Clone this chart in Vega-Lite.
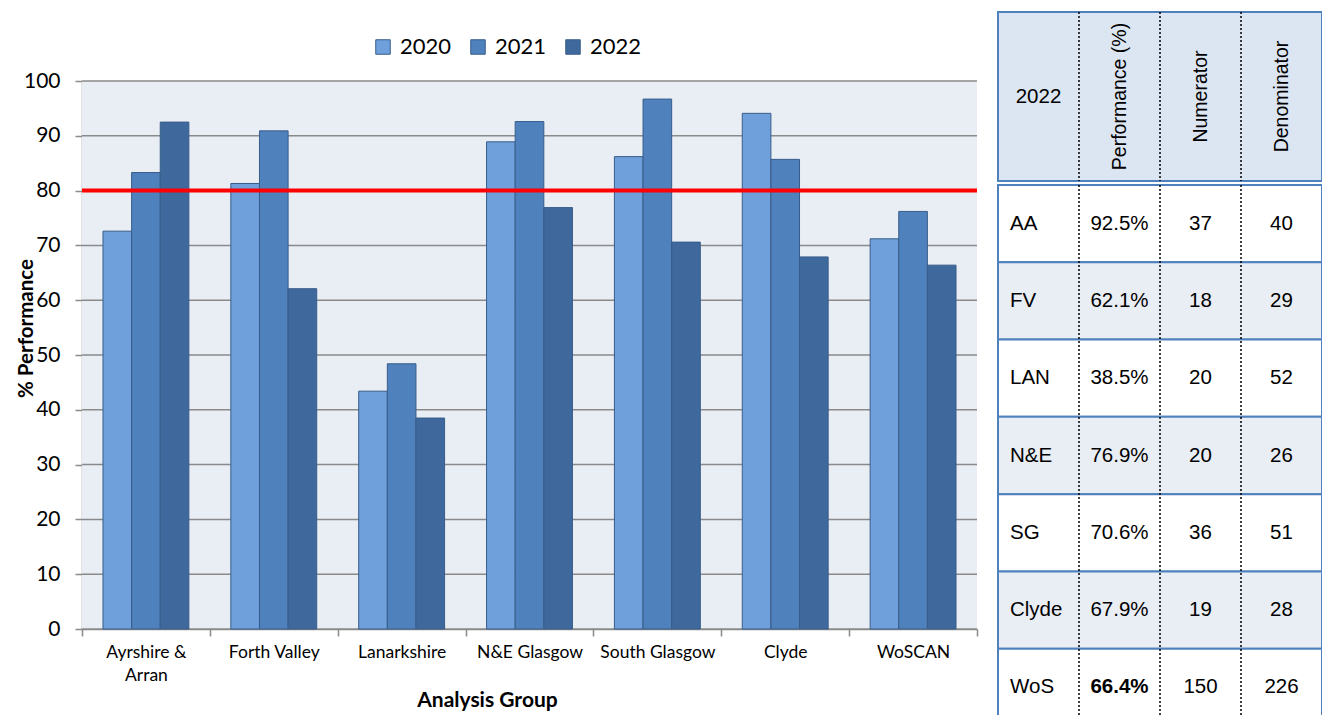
{
  "$schema": "https://vega.github.io/schema/vega-lite/v6.json",
  "padding": {"left": 16, "top": 10, "right": 0, "bottom": 0},
  "background": "#FFFFFF",
  "datasets": {
    "performance": [
      {"group": "Ayrshire & Arran", "year": "2020", "value": 72.6},
      {"group": "Ayrshire & Arran", "year": "2021", "value": 83.3},
      {"group": "Ayrshire & Arran", "year": "2022", "value": 92.5, "abbr": "AA", "numerator": 37, "denominator": 40},
      {"group": "Forth Valley", "year": "2020", "value": 81.3},
      {"group": "Forth Valley", "year": "2021", "value": 90.9},
      {"group": "Forth Valley", "year": "2022", "value": 62.1, "abbr": "FV", "numerator": 18, "denominator": 29},
      {"group": "Lanarkshire", "year": "2020", "value": 43.4},
      {"group": "Lanarkshire", "year": "2021", "value": 48.4},
      {"group": "Lanarkshire", "year": "2022", "value": 38.5, "abbr": "LAN", "numerator": 20, "denominator": 52},
      {"group": "N&E Glasgow", "year": "2020", "value": 88.9},
      {"group": "N&E Glasgow", "year": "2021", "value": 92.6},
      {"group": "N&E Glasgow", "year": "2022", "value": 76.9, "abbr": "N&E", "numerator": 20, "denominator": 26},
      {"group": "South Glasgow", "year": "2020", "value": 86.2},
      {"group": "South Glasgow", "year": "2021", "value": 96.7},
      {"group": "South Glasgow", "year": "2022", "value": 70.6, "abbr": "SG", "numerator": 36, "denominator": 51},
      {"group": "Clyde", "year": "2020", "value": 94.1},
      {"group": "Clyde", "year": "2021", "value": 85.7},
      {"group": "Clyde", "year": "2022", "value": 67.9, "abbr": "Clyde", "numerator": 19, "denominator": 28},
      {"group": "WoSCAN", "year": "2020", "value": 71.2},
      {"group": "WoSCAN", "year": "2021", "value": 76.2},
      {"group": "WoSCAN", "year": "2022", "value": 66.4, "abbr": "WoS", "numerator": 150, "denominator": 226}
    ],
    "plotRange": [{"low": 0, "high": 100}],
    "gridValues": [
      {"tick": 0}, {"tick": 10}, {"tick": 20}, {"tick": 30}, {"tick": 40}, {"tick": 50},
      {"tick": 60}, {"tick": 70}, {"tick": 80}, {"tick": 90}, {"tick": 100}
    ],
    "columns": [
      {"column": "area", "heading": "2022"},
      {"column": "performance", "heading": "Performance (%)"},
      {"column": "numerator", "heading": "Numerator"},
      {"column": "denominator", "heading": "Denominator"}
    ]
  },
  "resolve": {"scale": {"color": "independent"}, "legend": {"color": "independent"}},
  "columns": 2,
  "align": "none",
  "spacing": 17,
  "concat": [
    {
      "width": 895,
      "height": 617,
      "view": {"stroke": null},
      "data": {"name": "performance"},
      "layer": [
        {
          "data": {"name": "plotRange"},
          "mark": {"type": "rect", "fill": "#E9EDF4"},
          "encoding": {
            "y": {"field": "low", "type": "quantitative", "scale": {"domain": [0, 100], "range": [617, 69], "nice": false}},
            "y2": {"field": "high"}
          }
        },
        {
          "data": {"name": "gridValues"},
          "mark": {"type": "rule", "color": "#8A8A8A", "strokeWidth": 1.5},
          "encoding": {"y": {"field": "tick", "type": "quantitative"}}
        },
        {
          "mark": {"type": "bar", "stroke": "#385D8A", "strokeWidth": 1},
          "encoding": {
            "x": {
              "field": "group",
              "type": "nominal",
              "sort": ["Ayrshire & Arran", "Forth Valley", "Lanarkshire", "N&E Glasgow", "South Glasgow", "Clyde", "WoSCAN"],
              "scale": {"type": "band", "paddingInner": 0, "paddingOuter": 0},
              "axis": {
                "title": "Analysis Group",
                "labelAngle": 0,
                "labelFont": "Lato",
                "labelFontSize": 17.5,
                "labelColor": "#000000",
                "labelPadding": 7,
                "labelLineHeight": 23,
                "labelExpr": "datum.label == 'Ayrshire & Arran' ? ['Ayrshire &', 'Arran'] : datum.label",
                "tickBand": "extent",
                "tickSize": 7,
                "tickColor": "#8A8A8A",
                "tickWidth": 1.5,
                "domainColor": "#8A8A8A",
                "domainWidth": 1.5,
                "titleFont": "Lato",
                "titleFontSize": 21,
                "titleFontWeight": "bold",
                "titleColor": "#000000",
                "titleX": 405,
                "titleY": 71,
                "titleBaseline": "middle"
              }
            },
            "xOffset": {
              "field": "year",
              "type": "nominal",
              "sort": ["2020", "2021", "2022"],
              "scale": {"paddingInner": 0, "paddingOuter": 0.733}
            },
            "y": {
              "field": "value",
              "type": "quantitative",
              "axis": {
                "title": "% Performance",
                "values": [0, 10, 20, 30, 40, 50, 60, 70, 80, 90, 100],
                "grid": false,
                "domain": true,
                "domainColor": "#8A8A8A",
                "domainWidth": 1.5,
                "tickColor": "#8A8A8A",
                "tickWidth": 1.5,
                "tickSize": 7,
                "labelPadding": 15,
                "labelFont": "Lato",
                "labelFontSize": 21,
                "labelColor": "#000000",
                "titleFont": "Lato",
                "titleFontSize": 20.5,
                "titleFontWeight": "bold",
                "titleColor": "#000000",
                "titleAngle": 270,
                "titleX": -56,
                "titleY": 316,
                "titleBaseline": "middle",
                "titleAlign": "center"
              }
            },
            "color": {
              "field": "year",
              "type": "nominal",
              "scale": {"domain": ["2020", "2021", "2022"], "range": ["#6FA0DB", "#4F81BD", "#3F699C"]},
              "legend": {
                "title": null,
                "orient": "none",
                "direction": "horizontal",
                "legendX": 290,
                "legendY": 24,
                "labelFont": "Lato",
                "labelFontSize": 22,
                "labelColor": "#000000",
                "symbolType": "square",
                "symbolSize": 210,
                "symbolStrokeColor": "#385D8A",
                "symbolStrokeWidth": 1,
                "symbolOpacity": 1,
                "columnPadding": 15,
                "labelOffset": 6
              }
            }
          }
        },
        {
          "data": {"values": [{"target": 80}]},
          "mark": {"type": "rule", "color": "#FF0000", "strokeWidth": 4},
          "encoding": {"y": {"field": "target", "type": "quantitative"}}
        }
      ]
    },
    {
      "spacing": 0,
      "vconcat": [
        {
          "width": 324,
          "height": 169,
          "view": {"fill": "#DCE6F2", "stroke": "#4F81BD", "strokeWidth": 2},
          "data": {"name": "columns"},
          "layer": [
            {
              "transform": [{"filter": "datum.column != 'area'"}],
              "mark": {"type": "rule", "color": "#000000", "strokeWidth": 1.5, "strokeDash": [2, 2]},
              "encoding": {
                "x": {"field": "column", "type": "nominal", "bandPosition": 0,
                  "scale": {"type": "band", "domain": ["area", "performance", "numerator", "denominator"], "paddingInner": 0, "paddingOuter": 0},
                  "axis": null}
              }
            },
            {
              "transform": [{"filter": "datum.column == 'area'"}],
              "mark": {"type": "text", "font": "Liberation Sans", "fontSize": 20.5, "color": "#000000"},
              "encoding": {
                "x": {"field": "column", "type": "nominal", "scale": {"type": "band"}, "axis": null},
                "text": {"field": "heading"}
              }
            },
            {
              "transform": [{"filter": "datum.column != 'area'"}],
              "mark": {"type": "text", "font": "Liberation Sans", "fontSize": 19.5, "angle": 270, "color": "#000000"},
              "encoding": {
                "x": {"field": "column", "type": "nominal", "scale": {"type": "band"}, "axis": null},
                "text": {"field": "heading"}
              }
            }
          ]
        },
        {
          "width": 324,
          "height": 541,
          "view": {"stroke": "#4F81BD", "strokeWidth": 2},
          "data": {"name": "performance"},
          "layer": [
            {
              "transform": [{"filter": "datum.year == '2022'"}],
              "mark": {"type": "rect", "stroke": "#4F81BD", "strokeWidth": 2},
              "encoding": {
                "y": {"field": "abbr", "type": "nominal",
                  "scale": {"type": "band", "domain": ["AA", "FV", "LAN", "N&E", "SG", "Clyde", "WoS"], "paddingInner": 0, "paddingOuter": 0},
                  "axis": null},
                "fill": {"field": "abbr", "type": "nominal",
                  "scale": {"domain": ["AA", "FV", "LAN", "N&E", "SG", "Clyde", "WoS"],
                    "range": ["#FFFFFF", "#E9EDF4", "#FFFFFF", "#E9EDF4", "#FFFFFF", "#E9EDF4", "#FFFFFF"]},
                  "legend": null}
              }
            },
            {
              "data": {"name": "columns"},
              "transform": [{"filter": "datum.column != 'area'"}],
              "mark": {"type": "rule", "color": "#000000", "strokeWidth": 1.5, "strokeDash": [2, 2]},
              "encoding": {
                "x": {"field": "column", "type": "nominal", "bandPosition": 0,
                  "scale": {"type": "band", "domain": ["area", "performance", "numerator", "denominator"], "paddingInner": 0, "paddingOuter": 0},
                  "axis": null}
              }
            },
            {
              "transform": [{"filter": "datum.year == '2022'"}],
              "mark": {"type": "text", "font": "Liberation Sans", "fontSize": 20.5, "align": "left", "dx": 12, "color": "#000000"},
              "encoding": {
                "x": {"datum": "area", "type": "nominal", "bandPosition": 0, "scale": {"type": "band"}, "axis": null},
                "y": {"field": "abbr", "type": "nominal", "scale": {"type": "band"}, "axis": null},
                "text": {"field": "abbr"}
              }
            },
            {
              "transform": [{"filter": "datum.year == '2022' && datum.abbr != 'WoS'"}],
              "mark": {"type": "text", "font": "Liberation Sans", "fontSize": 20.5, "color": "#000000",
                "text": {"expr": "format(datum.value, '.1f') + '%'"}},
              "encoding": {
                "x": {"datum": "performance", "type": "nominal", "scale": {"type": "band"}, "axis": null},
                "y": {"field": "abbr", "type": "nominal", "scale": {"type": "band"}, "axis": null}
              }
            },
            {
              "transform": [{"filter": "datum.year == '2022' && datum.abbr == 'WoS'"}],
              "mark": {"type": "text", "font": "Liberation Sans", "fontSize": 20.5, "fontWeight": "bold", "color": "#000000",
                "text": {"expr": "format(datum.value, '.1f') + '%'"}},
              "encoding": {
                "x": {"datum": "performance", "type": "nominal", "scale": {"type": "band"}, "axis": null},
                "y": {"field": "abbr", "type": "nominal", "scale": {"type": "band"}, "axis": null}
              }
            },
            {
              "transform": [{"filter": "datum.year == '2022'"}],
              "mark": {"type": "text", "font": "Liberation Sans", "fontSize": 20.5, "color": "#000000"},
              "encoding": {
                "x": {"datum": "numerator", "type": "nominal", "scale": {"type": "band"}, "axis": null},
                "y": {"field": "abbr", "type": "nominal", "scale": {"type": "band"}, "axis": null},
                "text": {"field": "numerator"}
              }
            },
            {
              "transform": [{"filter": "datum.year == '2022'"}],
              "mark": {"type": "text", "font": "Liberation Sans", "fontSize": 20.5, "color": "#000000"},
              "encoding": {
                "x": {"datum": "denominator", "type": "nominal", "scale": {"type": "band"}, "axis": null},
                "y": {"field": "abbr", "type": "nominal", "scale": {"type": "band"}, "axis": null},
                "text": {"field": "denominator"}
              }
            }
          ]
        }
      ]
    }
  ],
  "config": {
    "view": {"stroke": null},
    "font": "Lato"
  }
}
